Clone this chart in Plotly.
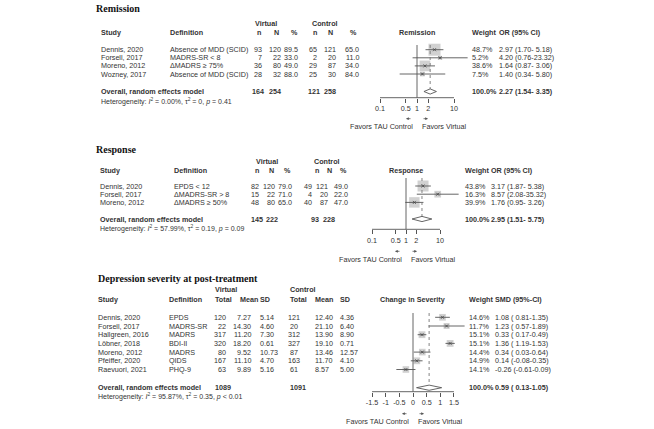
import numpy as np
import plotly.graph_objects as go

# ---------------- data ----------------
# Remission
rem_study = ["Dennis, 2020", "Forsell, 2017", "Moreno, 2012", "Wozney, 2017"]
rem_def = ["Absence of MDD (SCID)", "MADRS-SR < 8", "ΔMADRS ≥ 75%", "Absence of MDD (SCID)"]
rem_v_n = [93, 7, 36, 28]
rem_v_N = [120, 22, 80, 32]
rem_v_pct = [89.5, 33.0, 49.0, 88.0]
rem_c_n = [65, 2, 29, 25]
rem_c_N = [121, 20, 87, 30]
rem_c_pct = [65.0, 11.0, 34.0, 84.0]
rem_weight = [48.7, 5.2, 38.6, 7.5]
rem_or = [2.97, 4.20, 1.64, 1.40]
rem_lo = [1.70, 0.76, 0.87, 0.34]
rem_hi = [5.18, 23.32, 3.06, 5.80]
rem_total = [164, 254, 121, 258]
rem_pooled = [2.27, 1.54, 3.35]
rem_het = ["0.00%", "0", "= 0.41"]

# Response
resp_study = ["Dennis, 2020", "Forsell, 2017", "Moreno, 2012"]
resp_def = ["EPDS < 12", "ΔMADRS-SR > 8", "ΔMADRS ≥ 50%"]
resp_v_n = [82, 15, 48]
resp_v_N = [120, 22, 80]
resp_v_pct = [79.0, 71.0, 65.0]
resp_c_n = [49, 4, 40]
resp_c_N = [121, 20, 87]
resp_c_pct = [49.0, 22.0, 47.0]
resp_weight = [43.8, 16.3, 39.9]
resp_or = [3.17, 8.57, 1.76]
resp_lo = [1.87, 2.08, 0.95]
resp_hi = [5.38, 35.32, 3.26]
resp_total = [145, 222, 93, 228]
resp_pooled = [2.95, 1.51, 5.75]
resp_het = ["57.99%", "0.19", "= 0.09"]

# Depression severity at post-treatment
dep_study = ["Dennis, 2020", "Forsell, 2017", "Hallgreen, 2016", "Löbner, 2018",
             "Moreno, 2012", "Pfeiffer, 2020", "Raevuori, 2021"]
dep_def = ["EPDS", "MADRS-SR", "MADRS", "BDI-II", "MADRS", "QIDS", "PHQ-9"]
dep_v_total = [120, 22, 317, 320, 80, 167, 63]
dep_v_mean = [7.27, 14.30, 11.20, 18.20, 9.52, 11.10, 9.89]
dep_v_sd = [5.14, 4.60, 7.30, 0.61, 10.73, 4.70, 5.16]
dep_c_total = [121, 20, 312, 327, 87, 163, 61]
dep_c_mean = [12.40, 21.10, 13.90, 19.10, 13.46, 11.70, 8.57]
dep_c_sd = [4.36, 6.40, 8.90, 0.71, 12.57, 4.10, 5.00]
dep_weight = [14.6, 11.7, 15.1, 15.1, 14.4, 14.9, 14.1]
dep_smd = [1.08, 1.23, 0.33, 1.36, 0.34, 0.14, -0.26]
dep_lo = [0.81, 0.57, 0.17, 1.19, 0.03, -0.08, -0.61]
dep_hi = [1.35, 1.89, 0.49, 1.53, 0.64, 0.35, 0.09]
dep_total = [1089, 1091]
dep_pooled = [0.59, 0.13, 1.05]
dep_het = ["95.87%", "0.35", "< 0.01"]

or_ticks = [0.1, 0.5, 1, 2, 10]
smd_ticks = [-1.5, -1, -0.5, 0, 0.5, 1, 1.5]

# ---------------- style ----------------
W, H = 654, 429
SANS = "Liberation Sans, Arial, sans-serif"
SERIF = "Liberation Serif, Times New Roman, serif"
TXT = "#333333"
LINE = "#555555"
SQ = "#BEBEBE"
FS = 7.2

fig = go.Figure()


def px(x):
    return x / W


def py(y):
    return 1 - y / H


def text(s, x, y, anchor="left", size=FS, bold=False, yref="paper", color=TXT, family=SANS):
    if bold:
        s = "<b>" + s + "</b>"
    fig.add_annotation(x=px(x), y=py(y) if yref == "paper" else y, xref="paper", yref=yref,
                       text=s, showarrow=False, xanchor=anchor, yanchor="middle",
                       borderpad=0, font=dict(size=size, family=family, color=color))


def arrow(tip, tail_dx, y):
    fig.add_annotation(x=px(tip), y=py(y), xref="paper", yref="paper", text="",
                       showarrow=True, ax=tail_dx, ay=0, arrowhead=2, arrowsize=0.7,
                       arrowwidth=0.8, arrowcolor=LINE)


def panel(k, p):
    xa = "x" if k == 1 else "x%d" % k
    ya = "y" if k == 1 else "y%d" % k
    y0, dy = p["y0"], p["dy"]

    def row(ypix):
        return (ypix - y0) / dy

    n = len(p["est"])
    rows = list(range(n))
    ov = row(p["ov_px"])
    top = row(p["line_top"])
    axis_row = row(p["axis_px"])

    # squares
    fig.add_trace(go.Scatter(
        x=p["est"], y=rows, mode="markers", xaxis=xa, yaxis=ya, hoverinfo="skip",
        marker=dict(symbol="square", color=SQ, size=[p["sq"] * np.sqrt(w) for w in p["weight"]],
                    line=dict(width=0))))
    # CIs
    xs, ys = [], []
    for i in rows:
        xs += [p["lo"][i], p["hi"][i], None]
        ys += [i, i, None]
    fig.add_trace(go.Scatter(x=xs, y=ys, mode="lines", xaxis=xa, yaxis=ya, hoverinfo="skip",
                             line=dict(color=LINE, width=0.9)))
    fig.add_trace(go.Scatter(
        x=p["est"], y=rows, mode="markers", xaxis=xa, yaxis=ya, hoverinfo="skip",
        marker=dict(symbol="x-thin", size=3, line=dict(color="#444", width=0.8))))
    # null line
    fig.add_trace(go.Scatter(x=[p["null"], p["null"]], y=[top, axis_row], mode="lines",
                             xaxis=xa, yaxis=ya, hoverinfo="skip",
                             line=dict(color=LINE, width=0.9)))
    # pooled dotted line
    est, lo, hi = p["pooled"]
    hh = 2.6 / dy
    fig.add_trace(go.Scatter(x=[est, est], y=[top, ov - hh], mode="lines",
                             xaxis=xa, yaxis=ya, hoverinfo="skip",
                             line=dict(color="#777", width=0.9, dash="dot")))
    # diamond
    fig.add_trace(go.Scatter(x=[lo, est, hi, est, lo], y=[ov, ov - hh, ov, ov + hh, ov],
                             mode="lines", fill="toself", fillcolor="white",
                             xaxis=xa, yaxis=ya, hoverinfo="skip",
                             line=dict(color=LINE, width=0.9)))
    # axis line
    ticks = p["ticks"]
    fig.add_trace(go.Scatter(x=[ticks[0], ticks[-1]], y=[axis_row, axis_row], mode="lines",
                             xaxis=xa, yaxis=ya, hoverinfo="skip",
                             line=dict(color=LINE, width=0.9)))

    # axes
    x_lo, x_hi = p["xdom"]
    rng = [(x_lo - p["null_px"]) / p["scale"], (x_hi - p["null_px"]) / p["scale"]]
    fig.update_layout(**{
        ("xaxis" if k == 1 else "xaxis%d" % k): dict(
            type="log" if p["log"] else "linear", range=rng, domain=[px(x_lo), px(x_hi)],
            anchor="free", position=py(p["axis_px"]), showgrid=False, zeroline=False,
            showline=False, ticks="outside", ticklen=4, tickwidth=0.9, tickcolor=LINE,
            tickvals=ticks, ticktext=p["ticktext"],
            tickfont=dict(size=FS, family=SANS, color=TXT), fixedrange=True),
        ("yaxis" if k == 1 else "yaxis%d" % k): dict(
            range=[row(p["bottom"]), row(p["top"])], domain=[py(p["bottom"]), py(p["top"])],
            anchor=xa, visible=False, fixedrange=True),
    })

    # titles and headers
    text(p["title"], p["title_x"], p["title_y"], size=10, bold=True,
         family=SERIF, color="#111")
    for lab, x in p["super"]:
        text(lab, x, p["super_y"], bold=True)
    for lab, x, anc in p["headers"]:
        text(lab, x, p["head_y"], anchor=anc, bold=True)

    # table rows
    for vals, x, anc, fmt in p["cols"]:
        for i, v in enumerate(vals):
            text(fmt.format(v), x, i, anchor=anc, yref=ya)
    for i in rows:
        text("%.1f%%" % p["weight"][i], p["w_x"], i, yref=ya)
        text(p["ci_fmt"](p["est"][i], p["lo"][i], p["hi"][i]), p["ci_x"], i, yref=ya)

    # overall row
    text("Overall, random effects model", p["study_x"], ov, bold=True, yref=ya)
    for lab, x, anc in p["overall"]:
        text(lab, x, ov, anchor=anc, bold=True, yref=ya)
    text("100.0%", p["w_x"], ov, bold=True, yref=ya)
    text(p["ci_fmt"](est, lo, hi), p["ci_x"], ov, bold=True, yref=ya)
    i2, t2, pv = p["het"]
    text("Heterogeneity: <i>I</i><sup>2</sup> = %s, τ<sup>2</sup> = %s, <i>p</i> %s" % (i2, t2, pv),
         p["study_x"], p["het_px"], size=7)

    # favours labels
    npx = p["null_px"]
    ay = p["axis_px"] + p["arrow_dy"]
    arrow(npx - 11, 6, ay)
    arrow(npx + 11, -6, ay)
    text("Favors TAU Control", npx - 3, ay + 8, anchor="right")
    text("Favors Virtual", npx + 4, ay + 8, anchor="left")


def or_fmt(e, l, h):
    return "%.2f (%.2f-%5.2f)" % (e, l, h)


def smd_fmt(e, l, h):
    return "%.2f (%5.2f-%.2f)" % (e, l, h)


panel(1, dict(
    title="Remission", title_x=95, title_y=8, top=0, bottom=140, y0=49.7, dy=8.1,
    ov_px=91.5, het_px=101, axis_px=97.7, line_top=45, arrow_dy=21,
    est=rem_or, lo=rem_lo, hi=rem_hi, weight=rem_weight, pooled=rem_pooled, null=1,
    log=True, null_px=417, scale=37, xdom=[350, 480], sq=1.72,
    ticks=or_ticks, ticktext=["0.1", "0.5", "1", "2", "10"],
    super_y=24, super=[("Virtual", 254), ("Control", 311)],
    head_y=33,
    headers=[("Study", 100, "left"), ("Definition", 169, "left"), ("n", 256, "left"),
             ("N", 273, "left"), ("%", 290, "left"), ("n", 312, "left"), ("N", 327, "left"),
             ("%", 349, "left"), ("Remission", 417, "center"), ("Weight", 471, "left"),
             ("OR (95% CI)", 498, "left")],
    cols=[(rem_study, 100, "left", "{}"), (rem_def, 169, "left", "{}"),
          (rem_v_n, 263, "right", "{}"), (rem_v_N, 282, "right", "{}"),
          (rem_v_pct, 299, "right", "{:.1f}"), (rem_c_n, 318, "right", "{}"),
          (rem_c_N, 337, "right", "{}"), (rem_c_pct, 360, "right", "{:.1f}")],
    overall=[(str(rem_total[0]), 265, "right"), (str(rem_total[1]), 282, "right"),
             (str(rem_total[2]), 321, "right"), (str(rem_total[3]), 337, "right")],
    w_x=471, ci_x=498, ci_fmt=or_fmt, study_x=100, het=rem_het,
))

panel(2, dict(
    title="Response", title_x=95, title_y=149, top=140, bottom=270, y0=186, dy=8.2,
    ov_px=219, het_px=228, axis_px=229.3, line_top=178, arrow_dy=22,
    est=resp_or, lo=resp_lo, hi=resp_hi, weight=resp_weight, pooled=resp_pooled, null=1,
    log=True, null_px=406, scale=34, xdom=[345, 475], sq=1.66,
    ticks=or_ticks, ticktext=["0.1", "0.5", "1", "2", "10"],
    super_y=161, super=[("Virtual", 255), ("Control", 313)],
    head_y=171,
    headers=[("Study", 99, "left"), ("Definition", 173, "left"), ("n", 254, "left"),
             ("N", 268, "left"), ("%", 283, "left"), ("n", 314, "left"), ("N", 326, "left"),
             ("%", 339, "left"), ("Response", 406, "center"), ("Weight", 464, "left"),
             ("OR (95% CI)", 490, "left")],
    cols=[(resp_study, 99, "left", "{}"), (resp_def, 173, "left", "{}"),
          (resp_v_n, 260, "right", "{}"), (resp_v_N, 276, "right", "{}"),
          (resp_v_pct, 293, "right", "{:.1f}"), (resp_c_n, 313, "right", "{}"),
          (resp_c_N, 329, "right", "{}"), (resp_c_pct, 349, "right", "{:.1f}")],
    overall=[(str(resp_total[0]), 264, "right"), (str(resp_total[1]), 279, "right"),
             (str(resp_total[2]), 320, "right"), (str(resp_total[3]), 336, "right")],
    w_x=464, ci_x=490, ci_fmt=or_fmt, study_x=99, het=resp_het,
))

panel(3, dict(
    title="Depression severity at post-treatment", title_x=97, title_y=278, top=270,
    bottom=429, y0=317.3, dy=8.7,
    ov_px=387.7, het_px=396.2, axis_px=391.7, line_top=313, arrow_dy=22,
    est=dep_smd, lo=dep_lo, hi=dep_hi, weight=dep_weight, pooled=dep_pooled, null=0,
    log=False, null_px=413, scale=27.3, xdom=[360, 475], sq=1.75,
    ticks=smd_ticks, ticktext=["-1.5", "-1", "-0.5", "0", "0.5", "1", "1.5"],
    super_y=289, super=[("Virtual", 214), ("Control", 289)],
    head_y=299,
    headers=[("Study", 97, "left"), ("Definition", 168, "left"), ("Total", 214, "left"),
             ("Mean", 239, "left"), ("SD", 259, "left"), ("Total", 289, "left"),
             ("Mean", 314, "left"), ("SD", 339, "left"), ("Change in Severity", 412, "center"),
             ("Weight", 468, "left"), ("SMD (95%-CI)", 494, "left")],
    cols=[(dep_study, 97, "left", "{}"), (dep_def, 168, "left", "{}"),
          (dep_v_total, 227, "right", "{}"), (dep_v_mean, 252, "right", "{:.2f}"),
          (dep_v_sd, 259, "left", "{:.2f}"), (dep_c_total, 294, "center", "{}"),
          (dep_c_mean, 314, "left", "{:.2f}"), (dep_c_sd, 339, "left", "{:.2f}")],
    overall=[(str(dep_total[0]), 214, "left"), (str(dep_total[1]), 289, "left")],
    w_x=468, ci_x=494, ci_fmt=smd_fmt, study_x=97, het=dep_het,
))

fig.update_layout(
    width=W, height=H, margin=dict(l=0, r=0, t=0, b=0),
    paper_bgcolor="white", plot_bgcolor="rgba(0,0,0,0)", showlegend=False,
)

# drop the browser's default 8px body margin so the figure fills the window
fig.write_html("out.html", config={"displayModeBar": False},
               post_script="document.body.style.margin='0px';")
